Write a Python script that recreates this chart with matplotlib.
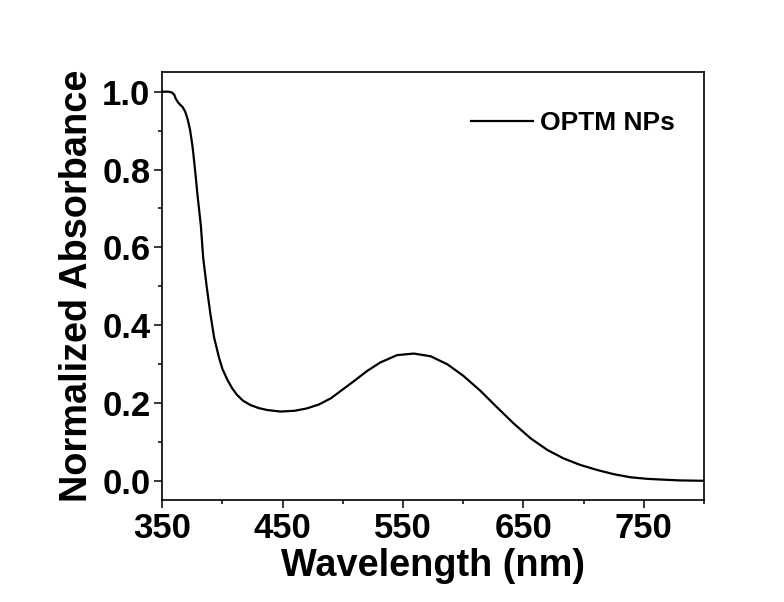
import matplotlib
matplotlib.use("Agg")
import matplotlib.pyplot as plt
from matplotlib.ticker import MultipleLocator

plt.rcParams["font.family"] = ["Liberation Sans", "DejaVu Sans"]
plt.rcParams["font.weight"] = "bold"

# UV-vis spectrum
wavelength = [350, 355, 358, 360, 361, 363, 365, 367, 369, 371, 373, 375, 376,
              378, 379, 381, 382, 384, 387, 390, 393, 397, 400, 404, 408, 412,
              417, 423, 430, 437, 448, 460, 470, 480, 490, 500, 510, 520, 531,
              545, 559, 573, 587, 600, 614, 628, 642, 656, 670, 683, 697, 711,
              725, 739, 753, 766, 780, 790, 800]
absorbance = [1.000, 1.000, 0.998, 0.992, 0.983, 0.973, 0.966, 0.960, 0.949,
              0.930, 0.903, 0.862, 0.835, 0.775, 0.742, 0.685, 0.657, 0.572,
              0.496, 0.428, 0.369, 0.318, 0.287, 0.260, 0.238, 0.221, 0.206,
              0.195, 0.187, 0.182, 0.178, 0.180, 0.186, 0.196, 0.212, 0.235,
              0.258, 0.282, 0.304, 0.323, 0.327, 0.320, 0.299, 0.270, 0.232,
              0.189, 0.147, 0.109, 0.079, 0.058, 0.041, 0.028, 0.017, 0.009,
              0.005, 0.003, 0.001, 0.0005, 0.0]
series_label = "OPTM NPs"

fig = plt.figure(figsize=(7.84, 6.02), dpi=100)
ax = fig.add_axes([0.207, 0.169, 0.691, 0.711])

ax.plot(wavelength, absorbance, color="black", lw=1.6, label=series_label)

ax.set_xlim(350, 800)
ax.set_ylim(-0.05, 1.05)
ax.xaxis.set_minor_locator(MultipleLocator(50))
ax.yaxis.set_minor_locator(MultipleLocator(0.1))
ax.set_yticks([0.0, 0.2, 0.4, 0.6, 0.8, 1.0])
ax.set_xticks([350, 450, 550, 650, 750])

ax.tick_params(which="major", direction="out", length=5.5, width=1.1,
               labelsize=25, pad=3)
ax.tick_params(which="minor", direction="out", length=2.8, width=1.1)
for s in ax.spines.values():
    s.set_linewidth(1.2)

ax.set_xlabel("Wavelength (nm)", fontsize=27.3, fontweight="bold", labelpad=2)
ax.set_ylabel("Normalized Absorbance", fontsize=27.3, fontweight="bold", labelpad=5)

ax.legend(loc="upper right", frameon=False, handlelength=2.35,
          handletextpad=0.25, bbox_to_anchor=(0.99, 0.965),
          prop={"weight": "bold", "size": 19})

fig.savefig("out.png", dpi=100, facecolor="white")
